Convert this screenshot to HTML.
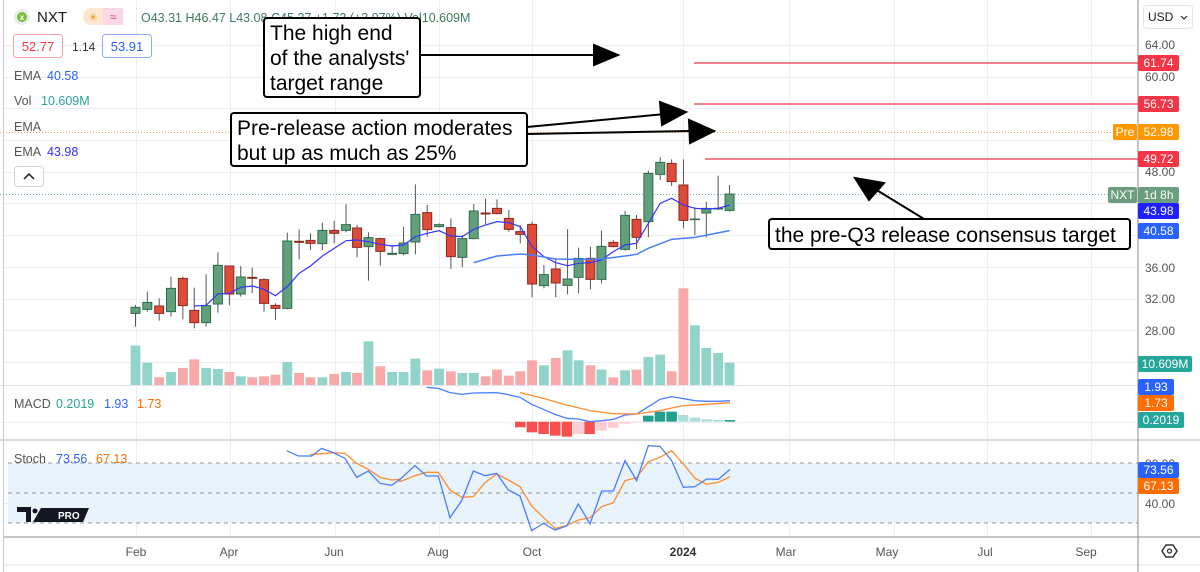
<!DOCTYPE html>
<html><head><meta charset="utf-8"><style>
body{margin:0;background:#fff;width:1200px;height:572px;overflow:hidden;font-family:"Liberation Sans",sans-serif;}
svg{position:absolute;left:0;top:0}
</style></head><body>
<svg id="s" width="1200" height="572" xmlns="http://www.w3.org/2000/svg" font-family="Liberation Sans, sans-serif">
<rect width="1200" height="572" fill="#fff"/>
<g id="grid" stroke="#eceef2" stroke-width="1"></g>
<!-- stoch band -->
<rect x="8" y="463" width="1130" height="60" fill="#e8f3fc"/>
<g stroke="#9a9a9a" stroke-dasharray="4,4" stroke-width="1">
<line x1="8" y1="463" x2="1138" y2="463"/><line x1="8" y1="493" x2="1138" y2="493"/><line x1="8" y1="523" x2="1138" y2="523"/></g>
<!-- pane separators -->
<line x1="0" y1="385.5" x2="1138" y2="385.5" stroke="#e0e3eb"/>
<line x1="0" y1="440" x2="1200" y2="440" stroke="#d8dbe2" stroke-width="2"/>
<line x1="4" y1="537" x2="1200" y2="537" stroke="#8a8d95" stroke-width="1"/>
<line x1="4" y1="565" x2="1200" y2="565" stroke="#e0e3eb"/>
<line x1="1138" y1="0" x2="1138" y2="572" stroke="#8a8d95"/>
<line x1="3.5" y1="0" x2="3.5" y2="572" stroke="#c8cad0"/>
<!-- dotted lines -->
<line x1="0" y1="132.5" x2="1112" y2="132.5" stroke="#f7a23b" stroke-dasharray="1,2"/>
<line x1="0" y1="194.5" x2="1108" y2="194.5" stroke="#6fb38e" stroke-dasharray="1,2"/>
<!-- red target lines -->
<line x1="694" y1="63" x2="1138" y2="63" stroke="#f23645" stroke-width="1.3"/>
<line x1="694" y1="104" x2="1138" y2="104" stroke="#f23645" stroke-width="1.3"/>
<line x1="705" y1="159" x2="1138" y2="159" stroke="#f23645" stroke-width="1.3"/>
<g id="vol" transform="translate(120,150) scale(0.408,0.3333)"></g>
<g id="cand" transform="translate(120,150) scale(0.408,0.3333)"></g>
<g id="macd"></g>
<g id="stoch"></g>
<!-- header -->
<circle cx="22" cy="17" r="8" fill="#e8ebf0"/><circle cx="22" cy="17" r="5" fill="#7cbf3a"/><text x="22" y="20" font-size="8" text-anchor="middle" fill="#fff" font-weight="bold">x</text>
<text x="37" y="22" font-size="15" fill="#131722">NXT</text>
<rect x="83" y="8" width="40" height="17" rx="8" fill="#fde7d2"/><rect x="103" y="8" width="20" height="17" rx="0" fill="#fbd9e4"/>
<text x="93" y="21" font-size="11" fill="#f29a2e" text-anchor="middle">☀</text><text x="113" y="21" font-size="12" fill="#e0467c" text-anchor="middle">≈</text>
<text x="141" y="22" font-size="12.5" fill="#3e7d5a">O43.31 H46.47 L43.08 C45.27 +1.73 (+3.97%) Vol10.609M</text>
<rect x="13.5" y="34.5" width="49" height="23" rx="3" fill="#fff" stroke="#f7a0a5"/><text x="38" y="51" font-size="13" fill="#f23645" text-anchor="middle">52.77</text>
<text x="72" y="51" font-size="12" fill="#333">1.14</text>
<rect x="102.5" y="34.5" width="49" height="23" rx="3" fill="#fff" stroke="#8ea9f7"/><text x="127" y="51" font-size="13" fill="#2962ff" text-anchor="middle">53.91</text>
<g font-size="12.5" fill="#555"><text x="14" y="80">EMA</text><text x="14" y="105">Vol</text><text x="14" y="131">EMA</text><text x="14" y="156">EMA</text>
<text x="14" y="408">MACD</text><text x="14" y="463">Stoch</text></g>
<text x="47" y="80" font-size="12.5" fill="#2962ff">40.58</text>
<text x="41" y="105" font-size="12.5" fill="#26a69a">10.609M</text>
<text x="47" y="156" font-size="12.5" fill="#3030ff">43.98</text>
<text x="56" y="408" font-size="12.5" fill="#26a69a">0.2019</text><text x="104" y="408" font-size="12.5" fill="#2962ff">1.93</text><text x="137" y="408" font-size="12.5" fill="#ff6d00">1.73</text>
<text x="56" y="463" font-size="12.5" fill="#2962ff">73.56</text><text x="96" y="463" font-size="12.5" fill="#ff6d00">67.13</text>
<rect x="14.5" y="166.5" width="29" height="20" rx="3" fill="#fff" stroke="#d0d3da"/><path d="M24 179 L29 174 L34 179" fill="none" stroke="#131722" stroke-width="1.5"/>
<!-- TV logo -->
<path d="M17 507 H31 V522 H26 V512 H17 Z" fill="#131722"/><circle cx="35" cy="511" r="2.5" fill="#131722"/><path d="M33 522 L41 508 H89 L83 522 Z" fill="#131722"/>
<text x="58" y="519" font-size="10" fill="#fff" font-weight="bold">PRO</text>
<!-- time axis -->
<g font-size="12" fill="#555" text-anchor="middle">
<text x="136" y="556">Feb</text><text x="229" y="556">Apr</text><text x="334" y="556">Jun</text><text x="438" y="556">Aug</text><text x="532" y="556">Oct</text><text x="683" y="556" font-weight="bold" fill="#333">2024</text><text x="786" y="556">Mar</text><text x="887" y="556">May</text><text x="985" y="556">Jul</text><text x="1086" y="556">Sep</text></g>
<!-- price axis -->
<g font-size="12" fill="#555"><text x="1145" y="49">64.00</text><text x="1145" y="81">60.00</text><text x="1145" y="176">48.00</text><text x="1145" y="272">36.00</text><text x="1145" y="303">32.00</text><text x="1145" y="335">28.00</text><text x="1145" y="468">80.00</text><text x="1145" y="508">40.00</text></g>
<rect x="1143.5" y="5.5" width="49" height="23" rx="3" fill="#fff" stroke="#e0e3eb"/><text x="1148" y="21" font-size="12" fill="#131722">USD</text><path d="M1181 16 l3 3 l3 -3" fill="none" stroke="#131722"/>
<g id="labels" font-size="12"></g>
<path d="M1162 551 l4 -6 h7 l4 6 l-4 6 h-7 z" fill="none" stroke="#333" stroke-width="1.5"/><circle cx="1169.5" cy="551" r="2" fill="none" stroke="#333" stroke-width="1.3"/>
<!-- annotations -->
<g stroke="#000" stroke-width="2" fill="#000">
<line x1="420" y1="55" x2="600" y2="55"/><path d="M618 55 L594 45 L594 65 Z"/>
<line x1="527" y1="127" x2="665" y2="114"/><path d="M686 112 L660 102 L662 125 Z"/>
<line x1="527" y1="134" x2="690" y2="131"/><path d="M714 131 L689 120 L690 143 Z"/>
<line x1="924" y1="219" x2="875" y2="189"/><path d="M855 178 L884 183 L869 200 Z"/>
</g>
<g font-size="21" fill="#000">
<rect x="264" y="18" width="156" height="79" rx="3" fill="#fff" stroke="#000" stroke-width="2"/>
<text x="270" y="40">The high end</text><text x="270" y="65">of the analysts'</text><text x="270" y="90">target range</text>
<rect x="231" y="113" width="296" height="53" rx="3" fill="#fff" stroke="#000" stroke-width="2"/>
<text x="237" y="135">Pre-release action moderates</text><text x="237" y="160">but up as much as 25%</text>
<rect x="769" y="219" width="361" height="30" rx="3" fill="#fff" stroke="#000" stroke-width="2"/>
<text x="775" y="242">the pre-Q3 release consensus target</text>
</g>
</svg>
<script>
var NS="http://www.w3.org/2000/svg";
function el(p,t,a){var e=document.createElementNS(NS,t);for(var k in a)e.setAttribute(k,a[k]);p.appendChild(e);return e;}
var g=document.getElementById('grid');
[136,230,335,439,532,683,789,894,987,1091].forEach(function(x){el(g,'line',{x1:x+.5,y1:0,x2:x+.5,y2:537});});
for(var y=45;y<385;y+=31.7){el(g,'line',{x1:4,y1:Math.round(y)+.5,x2:1138,y2:Math.round(y)+.5});}
el(g,'line',{x1:4,y1:422.5,x2:1138,y2:422.5});el(g,'line',{x1:4,y1:503.5,x2:1138,y2:503.5});
var C=[[38,'g',472,490,465,530],[67,'g',457,478,425,485],[96,'r',468,490,445,512],[125,'g',415,485,380,500],[154,'r',385,467,380,508],[182,'r',481,518,413,535],[211,'g',467,518,373,530],[240,'g',346,462,307,488],[268,'r',348,432,348,466],[296,'g',381,432,348,440],[324,'r',382,385,353,430],[353,'r',389,460,385,485],[381,'r',466,475,460,510],[410,'g',273,475,248,478],[439,'r',274,277,238,328],[467,'r',271,280,250,300],[496,'g',241,281,218,300],[525,'r',241,250,212,280],[554,'g',224,241,163,247],[581,'r',234,292,225,322],[609,'g',263,290,247,392],[638,'r',266,304,263,347],[667,'g',310,313,285,316],[695,'g',279,311,230,316],[724,'g',193,276,103,313],[753,'r',188,239,165,260],[782,'g',224,230,220,232],[811,'r',233,320,205,357],[839,'g',266,322,256,352],[867,'g',183,266,162,268],[896,'r',189,192,146,222],[924,'r',175,191,148,193],[953,'r',205,238,180,245],[981,'r',245,253,225,280],[1010,'r',223,402,215,442],[1039,'g',374,407,345,415],[1068,'r',357,399,325,442],[1097,'g',387,406,238,433],[1124,'g',325,382,293,430],[1153,'r',325,388,290,418],[1180,'g',289,388,242,400],[1209,'r',277,290,270,292],[1238,'g',196,298,183,302],[1266,'r',208,262,195,297],[1295,'g',70,215,62,262],[1324,'g',37,73,22,90],[1352,'r',40,95,28,108],[1381,'r',105,211,28,235],[1409,'g',207,209,172,255],[1437,'g',175,189,155,262],[1466,'g',175,177,77,180],[1494,'g',132,181,105,185]];
var V=[[587,'t'],[638,'t'],[682,'r'],[666,'t'],[654,'r'],[628,'r'],[654,'t'],[657,'t'],[666,'r'],[679,'t'],[682,'r'],[679,'r'],[674,'r'],[636,'t'],[669,'r'],[682,'r'],[682,'t'],[672,'r'],[666,'t'],[669,'r'],[574,'t'],[649,'r'],[666,'t'],[666,'t'],[626,'t'],[661,'r'],[656,'t'],[664,'r'],[669,'t'],[669,'t'],[679,'r'],[659,'r'],[677,'r'],[664,'r'],[631,'r'],[646,'t'],[624,'r'],[601,'t'],[631,'t'],[646,'r'],[659,'t'],[682,'r'],[661,'t'],[659,'r'],[621,'t'],[614,'t'],[664,'r'],[415,'r'],[526,'t'],[594,'t'],[609,'t'],[638,'t']];
var vg=document.getElementById('vol'),cg=document.getElementById('cand');
V.forEach(function(v,i){var x=C[i][0];el(vg,'rect',{x:x-12,y:v[0],width:24,height:705-v[0],fill:v[1]=='t'?'#92d3ca':'#f7a9a9'});});
C.forEach(function(c){var col=c[1]=='g'?'#62a07c':'#dd4b3a',bd=c[1]=='g'?'#2f6b4b':'#8e2a1e';
el(cg,'line',{x1:c[0],y1:c[4],x2:c[0],y2:c[5],stroke:'#555','stroke-width':1,'vector-effect':'non-scaling-stroke'});
el(cg,'rect',{x:c[0]-11,y:c[2],width:22,height:Math.max(c[3]-c[2],2),fill:col,stroke:bd,'stroke-width':1,'vector-effect':'non-scaling-stroke'});});
function pl(p,pts,col,w,f){el(p,'polyline',{points:pts.map(function(q){return f(q).join(',')}).join(' '),fill:'none',stroke:col,'stroke-width':w,'vector-effect':'non-scaling-stroke'});}
var id=function(q){return q};
pl(cg,[[182,468],[211,466],[240,432],[268,430],[296,412],[324,408],[353,418],[381,437],[410,410],[439,370],[467,348],[496,318],[525,295],[554,272],[581,270],[609,275],[638,283],[667,288],[695,285],[724,260],[753,250],[782,242],[811,258],[839,260],[867,238],[896,225],[924,215],[953,218],[981,230],[1010,290],[1039,320],[1068,338],[1097,347],[1124,340],[1153,338],[1180,330],[1209,305],[1238,285],[1266,280],[1295,220],[1324,160],[1352,145],[1381,165],[1409,175],[1437,177],[1466,175],[1494,165]],'#3535ff',1.2,id);
pl(cg,[[867,338],[924,318],[981,312],[1010,315],[1068,327],[1124,328],[1180,327],[1238,318],[1266,313],[1295,295],[1352,268],[1409,262],[1494,242]],'#4a7dff',1.5,id);
var mg=document.getElementById('macd');
var z4=function(q){return [400+q[0]/3,380+q[1]/3]};
var H=[[345,142,'#f94f4f'],[380,157,'#f94f4f'],[415,162,'#f94f4f'],[450,167,'#f94f4f'],[485,170,'#f94f4f'],[519,162,'#fdcdd1'],[553,162,'#f94f4f'],[589,152,'#fdcdd1'],[624,143,'#fdcdd1'],[659,131,'#fdcdd1'],[694,127,'#fdcdd1'],[729,107,'#22a08e'],[764,95,'#22a08e'],[799,95,'#22a08e'],[834,105,'#acdfd8'],[869,113,'#acdfd8'],[904,118,'#acdfd8'],[939,120,'#acdfd8'],[974,120,'#22a08e']];
H.forEach(function(h){var y1=380+125/3,y2=380+h[1]/3,x=400+h[0]/3;el(mg,'rect',{x:x,y:Math.min(y1,y2),width:10.5,height:Math.abs(y2-y1)||1,fill:h[2]});});
pl(mg,[[80,22],[115,25],[150,38],[185,43],[220,39],[290,38],[325,44],[360,52],[395,73],[430,88],[465,103],[500,115],[535,117],[570,125],[605,122],[640,118],[675,105],[710,102],[745,80],[780,58],[815,50],[850,56],[885,62],[920,64],[955,64],[990,62]],'#4a7dff',1.3,z4);
pl(mg,[[360,38],[430,55],[500,75],[570,92],[640,101],[710,102],[780,92],[815,84],[850,77],[920,73],[990,68]],'#ff8c2e',1.3,z4);
var sg=document.getElementById('stoch');var z5=function(q){return [q[0]/3,380+q[1]/3]};
var b5=[[860,212],[895,228],[935,228],[965,205],[1000,218],[1035,235],[1070,292],[1105,273],[1140,310],[1175,316],[1200,298]].map(z5);
var o5=[[930,224],[1000,218],[1035,220],[1070,250],[1105,268],[1140,292],[1175,300],[1200,298]].map(z5);
var b4=[[0,298],[45,257],[80,288],[115,288],[150,413],[185,362],[220,273],[255,287],[290,280],[325,330],[360,348],[395,452],[430,430],[465,450],[500,438],[535,372],[570,432],[605,333],[640,333],[675,242],[710,302],[745,197],[780,199],[815,242],[850,322],[885,320],[920,297],[955,298],[990,268]].map(z4);
var o4=[[0,305],[45,287],[80,277],[115,277],[150,330],[185,352],[220,350],[255,308],[290,282],[325,300],[360,320],[395,378],[430,412],[465,445],[500,437],[535,420],[570,413],[605,380],[640,368],[675,302],[710,293],[745,245],[780,232],[815,212],[850,252],[885,295],[920,313],[955,307],[990,290]].map(z4);
pl(sg,o5.concat(o4),'#ff8c2e',1.3,id);pl(sg,b5.concat(b4),'#4a7dff',1.3,id);
var lg=document.getElementById('labels');
function lab(x,y,w,t,bg,fc){el(lg,'rect',{x:x,y:y-8,width:w,height:16,rx:2,fill:bg});var e=el(lg,'text',{x:x+w/2,y:y+4,'text-anchor':'middle',fill:fc||'#fff'});e.textContent=t;}
lab(1138,63,41,'61.74','#f23645');lab(1138,104,41,'56.73','#f23645');lab(1138,132,41,'52.98','#ff9800');lab(1113,132,24,'Pre','#ff9800');
lab(1138,159,41,'49.72','#f23645');lab(1108,195,29,'NXT','#6b9e7f');lab(1138,195,41,'1d 8h','#6b9e7f');
lab(1138,211,41,'43.98','#2020ff');lab(1138,231,41,'40.58','#2962ff');lab(1138,364,54,'10.609M','#26a69a');
lab(1138,387,36,'1.93','#2962ff');lab(1138,403,36,'1.73','#ff6d00');lab(1138,420,46,'0.2019','#26a69a');
lab(1138,470,41,'73.56','#2962ff');lab(1138,486,41,'67.13','#ff6d00');
</script>
</body></html>
